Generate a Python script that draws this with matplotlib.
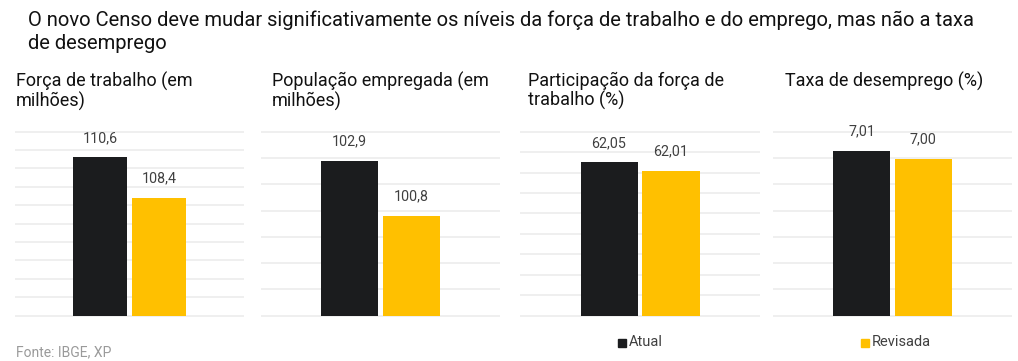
import numpy as np
import matplotlib
matplotlib.use("Agg")
import matplotlib.pyplot as plt
from matplotlib.patches import Rectangle

plt.rcParams["font.family"] = ["Roboto", "DejaVu Sans"]

# ---------- data ----------
series = ["Atual", "Revisada"]
titles = ["Força de trabalho (em\nmilhões)",
          "População empregada (em\nmilhões)",
          "Participação da força de\ntrabalho (%)",
          "Taxa de desemprego (%)"]
atual = [110.6, 102.9, 62.05, 7.01]
revisada = [108.4, 100.8, 62.01, 7.00]
decimals = [1, 1, 2, 2]
# value-axis range and number of gridlines per panel
ylims = [(102, 112), (97, 104), (61.3, 62.2), (6.811, 7.033)]
ngrid = [11, 8, 10, 8]

BLACK = "#1b1c1e"
GOLD = "#ffc000"
W, H = 1018, 361

fig = plt.figure(figsize=(W / 100, H / 100), dpi=100)

def fx(px): return px / W
def fy(py): return 1 - py / H

fig.text(fx(28), fy(10), "O novo Censo deve mudar significativamente os níveis da força de trabalho e do emprego, mas não a taxa\nde desemprego",
         ha="left", va="top", fontsize=14.5, color="#111111", linespacing=1.3)

panels = [(16, 243, 16), (262, 499, 272), (521, 759, 528), (774, 1011, 785)]
top_px, base_px = 131.7, 315.7

for i, (x0, x1, tx) in enumerate(panels):
    ax = fig.add_axes([fx(x0), fy(base_px), fx(x1 - x0), (base_px - top_px) / H])
    lo, hi = ylims[i]
    ax.set_ylim(lo, hi); ax.set_xlim(-1.42, 2.42)
    for g in np.linspace(lo, hi, ngrid[i]):
        ax.axhline(g, color="#efefef", lw=1.4, zorder=0, clip_on=False)
    vals = [atual[i], revisada[i]]
    bars = ax.bar([0, 1], vals, width=0.92, bottom=0, color=[BLACK, GOLD], zorder=2)
    for b, v in zip(bars, vals):
        s = f"{v:.{decimals[i]}f}".replace(".", ",")
        ax.annotate(s, (b.get_x() + b.get_width() / 2, v), xytext=(0, 9),
                    textcoords="offset points", ha="center", va="bottom",
                    fontsize=10.3, color="#404040")
    ax.axis("off")
    fig.text(fx(tx), fy(72), titles[i], ha="left", va="top", fontsize=13,
             color="#111111", linespacing=1.05)

# legend
for (sx, label, col) in [(618, "Atual", BLACK), (861, "Revisada", GOLD)]:
    fig.patches.append(Rectangle((fx(sx), fy(347)), fx(8), 8 / H, color=col,
                                 transform=fig.transFigure, figure=fig))
    fig.text(fx(sx + 11), fy(342.5), label, ha="left", va="center", fontsize=10.5,
             color="#404040")

fig.text(fx(16), fy(352), "Fonte: IBGE, XP", ha="left", va="center", fontsize=10,
         color="#9a9a9a")

fig.savefig("out.png", dpi=100)
